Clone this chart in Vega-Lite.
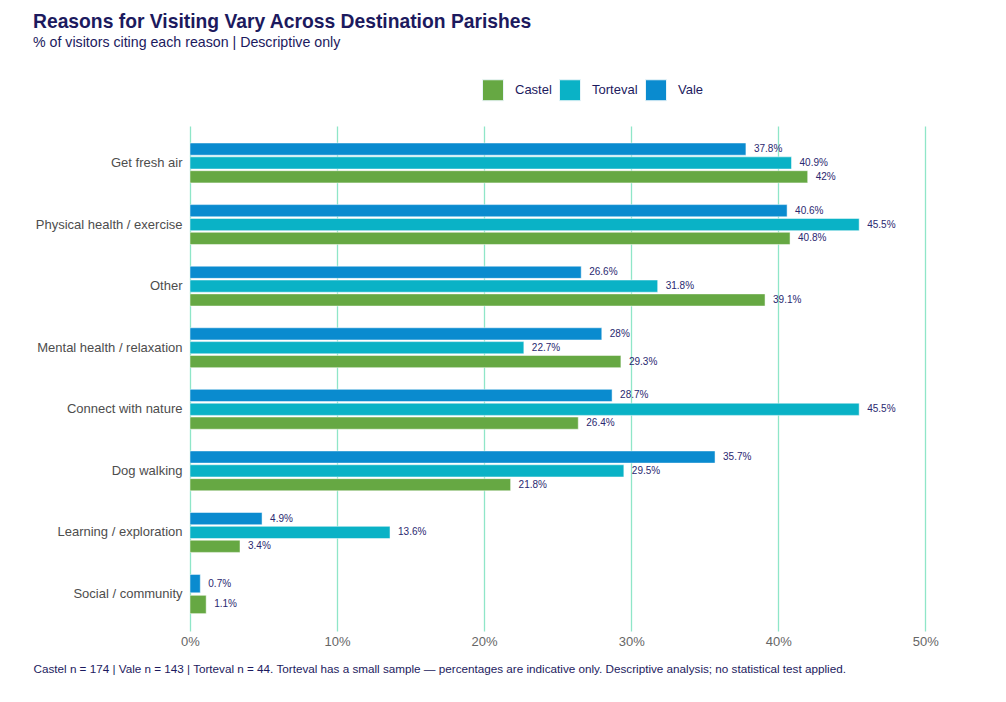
{
  "$schema": "https://vega.github.io/schema/vega-lite/v6.json",
  "width": 803,
  "height": 505,
  "padding": {"left": 33, "top": 12, "right": 10, "bottom": 10},
  "background": "white",
  "config": {
    "font": "Liberation Sans",
    "view": {"stroke": null},
    "title": {"anchor": "start", "frame": "bounds", "color": "#1c1a5e", "fontSize": 19.3, "fontWeight": "bold", "subtitleColor": "#1c1a5e", "subtitleFontSize": 14.2, "subtitlePadding": 4, "offset": 29}
  },
  "title": {
    "text": "Reasons for Visiting Vary Across Destination Parishes",
    "subtitle": "% of visitors citing each reason | Descriptive only"
  },
  "data": {
    "values": [
      {"reason": "Get fresh air", "parish": "Vale", "pct": 0.378},
      {"reason": "Get fresh air", "parish": "Torteval", "pct": 0.409},
      {"reason": "Get fresh air", "parish": "Castel", "pct": 0.42},
      {"reason": "Physical health / exercise", "parish": "Vale", "pct": 0.406},
      {"reason": "Physical health / exercise", "parish": "Torteval", "pct": 0.455},
      {"reason": "Physical health / exercise", "parish": "Castel", "pct": 0.408},
      {"reason": "Other", "parish": "Vale", "pct": 0.266},
      {"reason": "Other", "parish": "Torteval", "pct": 0.318},
      {"reason": "Other", "parish": "Castel", "pct": 0.391},
      {"reason": "Mental health / relaxation", "parish": "Vale", "pct": 0.28},
      {"reason": "Mental health / relaxation", "parish": "Torteval", "pct": 0.227},
      {"reason": "Mental health / relaxation", "parish": "Castel", "pct": 0.293},
      {"reason": "Connect with nature", "parish": "Vale", "pct": 0.287},
      {"reason": "Connect with nature", "parish": "Torteval", "pct": 0.455},
      {"reason": "Connect with nature", "parish": "Castel", "pct": 0.264},
      {"reason": "Dog walking", "parish": "Vale", "pct": 0.357},
      {"reason": "Dog walking", "parish": "Torteval", "pct": 0.295},
      {"reason": "Dog walking", "parish": "Castel", "pct": 0.218},
      {"reason": "Learning / exploration", "parish": "Vale", "pct": 0.049},
      {"reason": "Learning / exploration", "parish": "Torteval", "pct": 0.136},
      {"reason": "Learning / exploration", "parish": "Castel", "pct": 0.034},
      {"reason": "Social / community", "parish": "Vale", "pct": 0.007},
      {"reason": "Social / community", "parish": "Castel", "pct": 0.011}
    ]
  },
  "encoding": {
    "x": {
      "field": "pct",
      "type": "quantitative",
      "scale": {"domain": [0, 0.546], "nice": false, "zero": true},
      "axis": {
        "values": [0, 0.1, 0.2, 0.3, 0.4, 0.5],
        "format": ".0%",
        "grid": true,
        "gridColor": "#8fe6c8",
        "gridWidth": 1.3,
        "domain": false,
        "ticks": false,
        "labelFlush": false,
        "labelColor": "#666666",
        "labelFontSize": 13,
        "labelPadding": 4,
        "title": "Castel n = 174 | Vale n = 143 | Torteval n = 44. Torteval has a small sample — percentages are indicative only. Descriptive analysis; no statistical test applied.",
        "titleFontSize": 11.7,
        "titleFontWeight": "normal",
        "titleColor": "#1c1a5e",
        "titleAlign": "left",
        "titleAnchor": "start",
        "titleBaseline": "alphabetic",
        "titleX": -157,
        "titleY": 41
      }
    },
    "y": {
      "field": "reason",
      "type": "nominal",
      "sort": ["Get fresh air", "Physical health / exercise", "Other", "Mental health / relaxation", "Connect with nature", "Dog walking", "Learning / exploration", "Social / community"],
      "scale": {"paddingInner": 0.33, "paddingOuter": 0.265},
      "axis": {
        "title": null,
        "domain": false,
        "ticks": false,
        "labelColor": "#4d4d4d",
        "labelFontSize": 13,
        "labelPadding": 8,
        "labelLimit": 300
      }
    },
    "color": {
      "field": "parish",
      "type": "nominal",
      "scale": {"domain": ["Castel", "Torteval", "Vale"], "range": ["#66a843", "#0ab2c6", "#0a8bcf"]},
      "legend": {
        "title": null,
        "orient": "none",
        "direction": "horizontal",
        "legendX": 292,
        "legendY": -47,
        "padding": 0,
        "symbolType": "square",
        "symbolSize": 441,
        "symbolStrokeColor": "#e8f4f8",
        "symbolStrokeWidth": 1,
        "symbolOpacity": 1,
        "labelFontSize": 13,
        "labelColor": "#1c1a5e",
        "labelOffset": 11,
        "columnPadding": 5
      }
    }
  },
  "layer": [
    {
      "transform": [{"filter": "datum.reason !== 'Social / community'"}],
      "encoding": {
        "yOffset": {
          "field": "parish",
          "type": "nominal",
          "sort": ["Vale", "Torteval", "Castel"],
          "scale": {"domain": ["Vale", "Torteval", "Castel"], "paddingInner": 0.12, "paddingOuter": 0.05}
        }
      },
      "layer": [
        {"mark": {"type": "bar", "stroke": "#ffffff", "strokeWidth": 0.7, "strokeOpacity": 0.7}},
        {
          "mark": {"type": "text", "align": "left", "baseline": "middle", "dx": 8, "fontSize": 10, "color": "#2a2870"},
          "encoding": {"text": {"field": "pct", "type": "quantitative", "format": ".1~%"}, "color": {"value": "#2a2870"}}
        }
      ]
    },
    {
      "transform": [{"filter": "datum.reason === 'Social / community'"}],
      "encoding": {
        "yOffset": {
          "field": "parish",
          "type": "nominal",
          "sort": ["Vale", "Castel"],
          "scale": {"domain": ["Vale", "Castel"], "paddingInner": 0.12, "paddingOuter": 0.05}
        }
      },
      "layer": [
        {"mark": {"type": "bar", "stroke": "#ffffff", "strokeWidth": 0.7, "strokeOpacity": 0.7}},
        {
          "mark": {"type": "text", "align": "left", "baseline": "middle", "dx": 8, "fontSize": 10, "color": "#2a2870"},
          "encoding": {"text": {"field": "pct", "type": "quantitative", "format": ".1~%"}, "color": {"value": "#2a2870"}}
        }
      ]
    }
  ],
  "resolve": {"scale": {"yOffset": "independent"}}
}
